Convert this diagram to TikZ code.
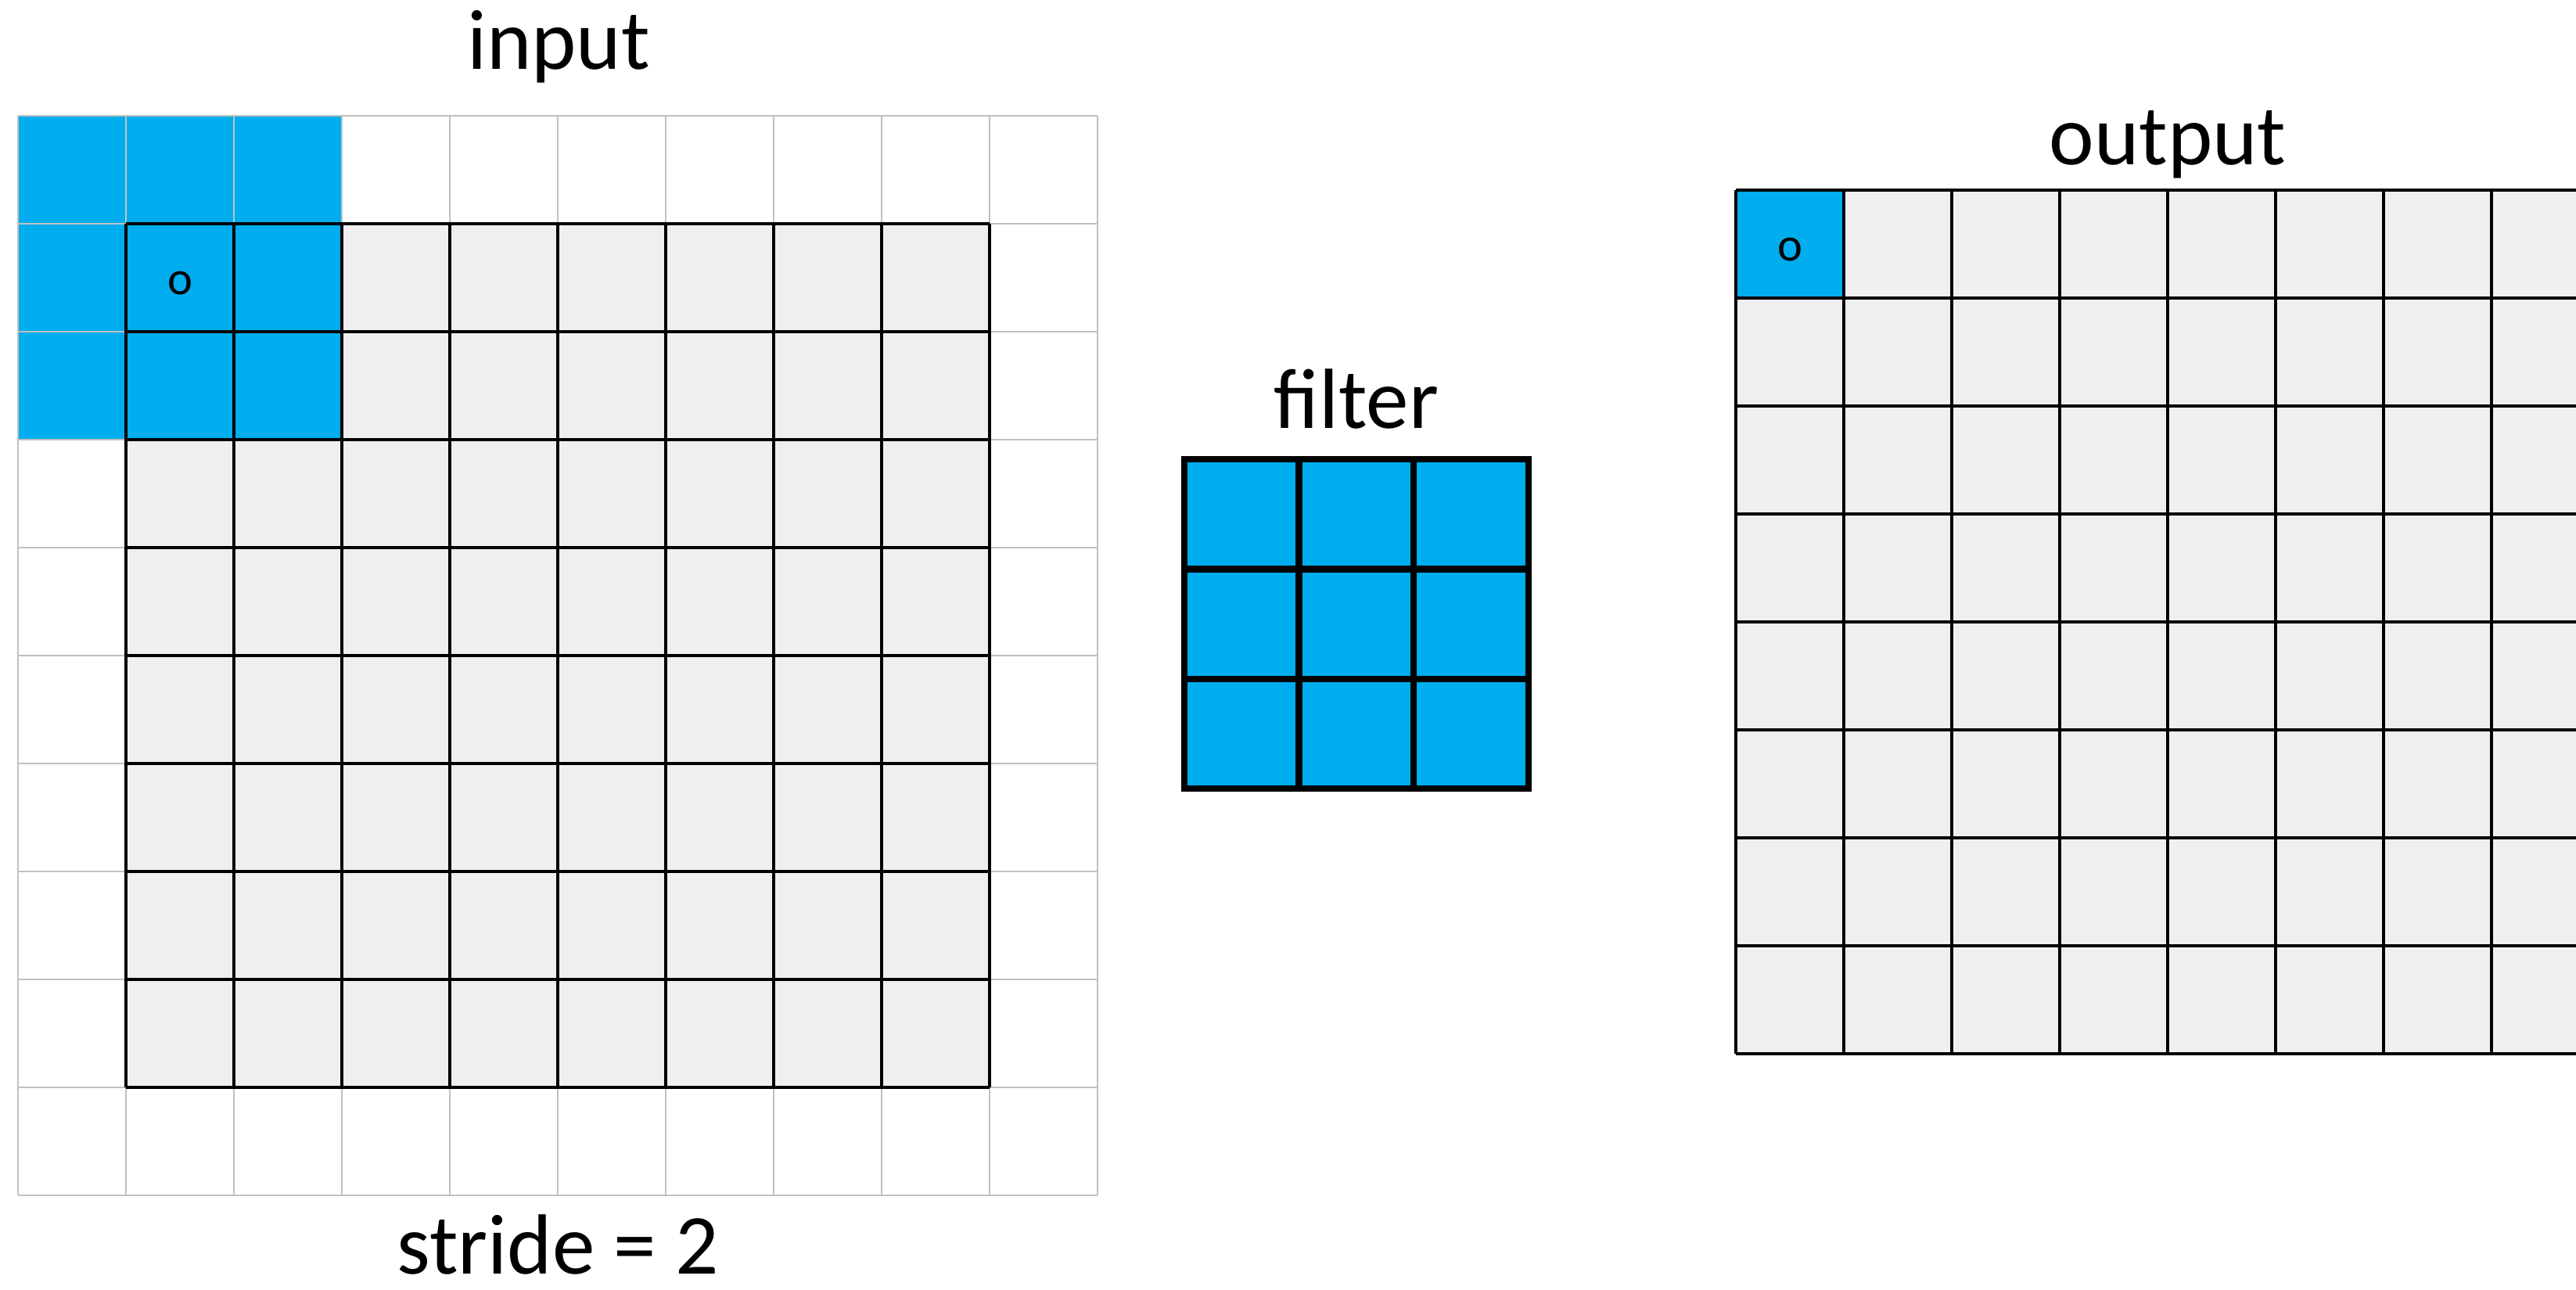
\documentclass[tikz,border=0pt]{standalone}
\usepackage{fontspec}
\setmainfont{Carlito}
\definecolor{cellblue}{HTML}{00ADEE}
\definecolor{cellgray}{HTML}{EFEFEF}
\definecolor{padline}{HTML}{C0C0C0}
\begin{document}
\begin{tikzpicture}[x=1cm, y=1cm,
  lbl/.style={font=\fontsize{22.5}{27}\selectfont, anchor=base, inner sep=0pt},
  cellmark/.style={font=\fontsize{12.5}{15}\selectfont, inner sep=0pt, yshift=-1.4pt},
  padgrid/.style={padline, line width=0.4pt},
  datgrid/.style={black, line width=0.68pt},
  filtgrid/.style={black, line width=1.7pt}]
\clip (0,0) rectangle (23.862,-11.942);
\fill[white] (0,0) rectangle (23.862,-11.942);
% Input (padded 10x10, data 8x8)
\pgfmathsetmacro{\ix}{0.167}
\pgfmathsetmacro{\iy}{-1.072}
\fill[cellgray] (\ix+1,\iy-1) rectangle (\ix+9,\iy-9);
\fill[cellblue] (\ix,\iy) rectangle (\ix+3,\iy-3);
\foreach \k in {0,...,10} {
  \draw[padgrid] (\ix+\k,\iy) -- (\ix+\k,\iy-10);
  \draw[padgrid] (\ix,\iy-\k) -- (\ix+10,\iy-\k);
}
\foreach \k in {1,...,9} {
  \draw[datgrid] (\ix+\k,\iy-1) -- (\ix+\k,\iy-9);
  \draw[datgrid] (\ix+1,\iy-\k) -- (\ix+9,\iy-\k);
}
\node[cellmark] (inmark) at (\ix+1.5,\iy-1.5) {o};
\node[lbl] (inlbl) at (5.174,-0.645) {input};
\node[lbl] (stridelbl) at (5.17,-11.80) {stride = 2};
% Filter 3x3
\pgfmathsetmacro{\fx}{10.971}
\pgfmathsetmacro{\fy}{-4.254}
\pgfmathsetmacro{\fw}{1.062}
\pgfmathsetmacro{\fh}{1.017}
\fill[cellblue] (\fx,\fy) rectangle (\fx+3*\fw,\fy-3*\fh);
\foreach \k in {1,2} {
  \draw[filtgrid] (\fx+\k*\fw,\fy) -- (\fx+\k*\fw,\fy-3*\fh);
  \draw[filtgrid] (\fx,\fy-\k*\fh) -- (\fx+3*\fw,\fy-\k*\fh);
}
\draw[filtgrid] (\fx,\fy) rectangle (\fx+3*\fw,\fy-3*\fh);
\node[lbl] (filtlbl) at (12.565,-3.971) {filter};
% Output 8x8 (cut at the right edge)
\pgfmathsetmacro{\ox}{16.08}
\pgfmathsetmacro{\oy}{-1.761}
\fill[cellgray] (\ox,\oy) rectangle (\ox+8,\oy-8);
\fill[cellblue] (\ox,\oy) rectangle (\ox+1,\oy-1);
\foreach \k in {0,...,8} {
  \draw[datgrid] (\ox+\k,\oy) -- (\ox+\k,\oy-8);
  \draw[datgrid] (\ox,\oy-\k) -- (\ox+8,\oy-\k);
}
\node[cellmark] (outmark) at (\ox+0.5,\oy-0.5) {o};
\node[lbl] (outlbl) at (20.08,-1.529) {output};
\end{tikzpicture}
\end{document}
